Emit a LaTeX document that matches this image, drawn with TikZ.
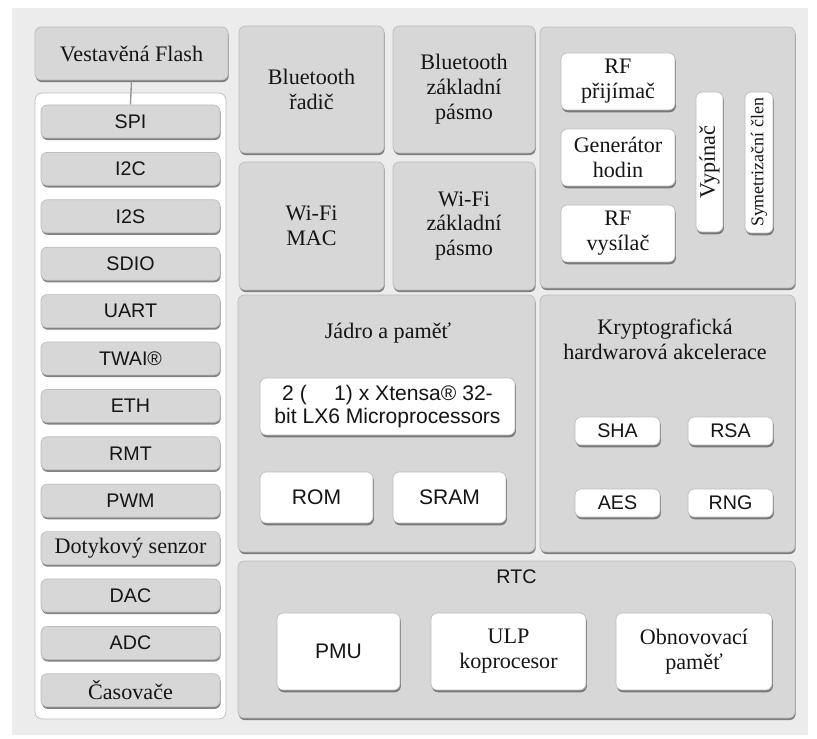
\documentclass[tikz,border=0pt]{standalone}
\usepackage{fontspec}
\setmainfont{Liberation Serif}
\setsansfont{Liberation Sans}
\usepackage{tikz}
\usetikzlibrary{shadows}

\definecolor{pagegray}{HTML}{ECECEC}
\definecolor{boxgray}{HTML}{D7D7D7}
\definecolor{edgegray}{HTML}{BDBDBD}
\definecolor{inkgray}{HTML}{151515}

\newcommand{\serifsz}{\fontsize{12.6}{14.2}\selectfont}
\newcommand{\sanssz}{\sffamily\fontsize{11.2}{12.6}\selectfont}

\begin{document}
\begin{tikzpicture}[x=0.02cm, y=-0.02cm,
    every node/.style={text=inkgray, align=center, inner sep=1pt},
    panel/.style={draw=edgegray, fill=boxgray, rounded corners=3.5pt,
        drop shadow={shadow xshift=0.4pt, shadow yshift=-1.2pt, fill=black!65, opacity=0.75}},
    whitebox/.style={draw=edgegray, fill=white, rounded corners=3.5pt,
        drop shadow={shadow xshift=0.5pt, shadow yshift=-1.3pt, fill=black!65, opacity=0.75}},
    iobox/.style={panel, minimum width=3.58cm, minimum height=0.66cm},
    cryptobox/.style={whitebox, minimum width=1.7cm, minimum height=0.56cm, font=\sanssz},
    rfbox/.style={whitebox, minimum width=2.28cm, minimum height=1.14cm, font=\serifsz},
    rtcbox/.style={whitebox, minimum width=3.1cm, minimum height=1.54cm}]
\useasboundingbox (0,0) rectangle (817,739);
\fill[white] (0,0) rectangle (817,739);
\fill[pagegray] (12,8) rectangle (808,735); % page

% left column: flash and peripherals
\node[panel, minimum width=3.86cm, minimum height=1.06cm, font=\serifsz] (flash) at (131.5,53.5) {Vestavěná Flash};
\node[draw=edgegray, fill=white, rounded corners=4pt, minimum width=3.82cm, minimum height=12.52cm] (iopanel) at (130.5,406) {};
\node[iobox, font=\sanssz] (spi) at (130.5,121.5) {SPI};
\node[iobox, font=\sanssz] (iic) at (130.5,168.9) {I2C};
\node[iobox, font=\sanssz] (iis) at (130.5,216.3) {I2S};
\node[iobox, font=\sanssz] (sdio) at (130.5,263.7) {SDIO};
\node[iobox, font=\sanssz] (uart) at (130.5,311.1) {UART};
\node[iobox, font=\sanssz] (twai) at (130.5,358.5) {TWAI®};
\node[iobox, font=\sanssz] (eth) at (130.5,405.9) {ETH};
\node[iobox, font=\sanssz] (rmt) at (130.5,453.3) {RMT};
\node[iobox, font=\sanssz] (pwm) at (130.5,500.7) {PWM};
\node[iobox, font=\serifsz] (touch) at (130.5,548.1) {Dotykový senzor};
\node[iobox, font=\sanssz] (dac) at (130.5,595.5) {DAC};
\node[iobox, font=\sanssz] (adc) at (130.5,642.9) {ADC};
\node[iobox, font=\serifsz] (timers) at (130.5,690.3) {Časovače};
\draw[edgegray!80!black, line width=0.8pt] (flash.south) -- (spi.north); % flash link

% radio blocks
\node[panel, minimum width=2.9cm, minimum height=2.54cm, font=\serifsz] (btctl) at (311.5,89.5) {Bluetooth\\řadič};
\node[panel, minimum width=2.84cm, minimum height=2.54cm, font=\serifsz] (btbb) at (464,89.5) {Bluetooth\\základní\\pásmo};
\node[panel, minimum width=2.9cm, minimum height=2.56cm, font=\serifsz] (wifimac) at (311.5,226) {Wi-Fi\\MAC};
\node[panel, minimum width=2.84cm, minimum height=2.56cm, font=\serifsz] (wifibb) at (464,226) {Wi-Fi\\základní\\pásmo};

% RF front end
\node[panel, minimum width=5.1cm, minimum height=5.22cm] (rfpanel) at (667.5,157.5) {};
\node[rfbox] (rfrx) at (618,81.5) {RF\\přijímač};
\node[rfbox] (clkgen) at (618,157.5) {Generátor\\hodin};
\node[rfbox] (rftx) at (618,233.5) {RF\\vysílač};
\node[whitebox, rotate=90, minimum width=2.8cm, minimum height=0.54cm, font=\serifsz] (switch) at (709.5,162) {Vypínač};
\node[whitebox, rotate=90, minimum width=2.82cm, minimum height=0.56cm, font=\fontsize{10.2}{12}\selectfont] (balun) at (759,162.5) {Symetrizační člen};

% core and memory
\node[panel, minimum width=5.94cm, minimum height=5.14cm] (core) at (386.5,423.5) {};
\node[font=\serifsz] (coretitle) at (388,333) {Jádro a paměť};
\node[whitebox, minimum width=5.1cm, minimum height=1.14cm, font=\sffamily\fontsize{12}{13.2}\selectfont] (cpu) at (387.5,406.5) {2 (\hspace{1.3em}1) x Xtensa® 32-\\bit LX6 Microprocessors};
\node[whitebox, minimum width=2.26cm, minimum height=1.02cm, font=\sffamily\fontsize{12}{13.2}\selectfont] (rom) at (316.5,497.5) {ROM};
\node[whitebox, minimum width=2.26cm, minimum height=1.02cm, font=\sffamily\fontsize{12}{13.2}\selectfont] (sram) at (449.5,497.5) {SRAM};

% crypto
\node[panel, minimum width=5.1cm, minimum height=5.14cm] (crypto) at (667.5,423.5) {};
\node[font=\serifsz] (cryptotitle) at (665,339) {Kryptografická\\hardwarová akcelerace};
\node[cryptobox] (sha) at (617.5,431) {SHA};
\node[cryptobox] (rsa) at (730.5,431) {RSA};
\node[cryptobox] (aes) at (617.5,503) {AES};
\node[cryptobox] (rng) at (730.5,503) {RNG};

% RTC
\node[panel, minimum width=11.14cm, minimum height=3.14cm] (rtc) at (516.5,639.5) {};
\node[font=\sanssz] (rtctitle) at (516.5,577) {RTC};
\node[rtcbox, minimum width=2.46cm, font=\sffamily\fontsize{12}{13.2}\selectfont] (pmu) at (338.5,651.5) {PMU};
\node[rtcbox, font=\serifsz] (ulp) at (508.5,651.5) {ULP\\koprocesor};
\node[rtcbox, minimum width=3.12cm, font=\serifsz] (refresh) at (694,651.5) {Obnovovací\\paměť};
\end{tikzpicture}
\end{document}
